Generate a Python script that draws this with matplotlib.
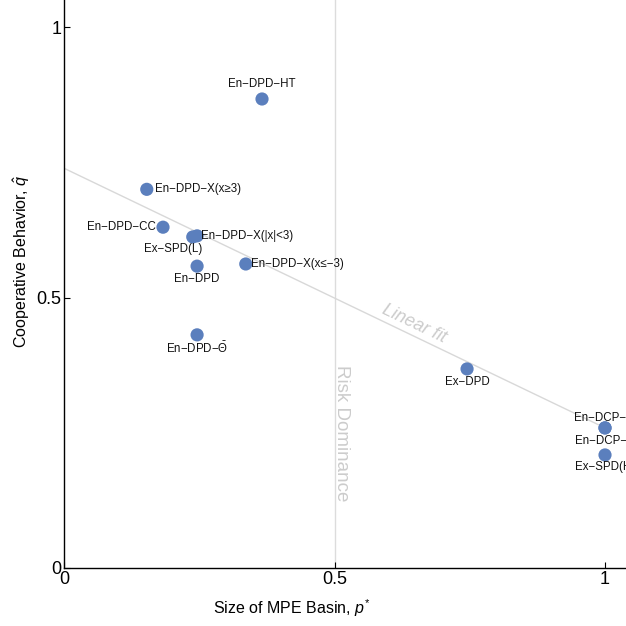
import matplotlib.pyplot as plt
import numpy as np

plt.rcParams['font.family'] = ['Liberation Sans', 'DejaVu Sans']
plt.rcParams['mathtext.fontset'] = 'custom'
plt.rcParams['mathtext.it'] = 'Liberation Sans:italic'
plt.rcParams['mathtext.rm'] = 'Liberation Sans'

# treatments: basin size p* vs. cooperation rate q-hat
names = ['En\u2212DPD\u2212HT', 'En\u2212DPD\u2212X(x\u22653)', 'En\u2212DPD\u2212CC',
         'Ex\u2212SPD(L)', 'En\u2212DPD\u2212X(|x|<3)', 'En\u2212DPD',
         'En\u2212DPD\u2212X(x\u2264\u22123)', 'En\u2212DPD\u2212$\\bar{\\Theta}$', 'Ex\u2212DPD',
         'En\u2212DCP\u2212M', 'En\u2212DCP\u2212E', 'Ex\u2212SPD(H)']
p_star = [0.366, 0.153, 0.183, 0.238, 0.246, 0.246, 0.336, 0.246, 0.745, 1.0, 1.0, 1.0]
q_hat = [0.867, 0.700, 0.630, 0.612, 0.614, 0.558, 0.562, 0.431, 0.368, 0.259, 0.259, 0.209]

# label placement (offset in points, horizontal alignment)
label_pos = [((0, 11), 'center'), ((6, 0), 'left'), ((-5, 0), 'right'),
             ((-14, -9), 'center'), ((3, 0), 'left'), ((0, -9), 'center'),
             ((4, 0), 'left'), ((0, -10), 'center'), ((0, -9.5), 'center'),
             ((0, 7), 'center'), ((0, -9.5), 'center'), ((0, -9), 'center')]

fit_intercept = 0.739
fit_slope = -0.48

fig = plt.figure(figsize=(6.26, 6.26), dpi=100)
ax = fig.add_axes([64 / 626, 58 / 626, 1 - 64 / 626, 568 / 626])
ax.set_xlim(0, 1.0388)
ax.set_ylim(0, 1.05)

ax.axvline(0.5, color='#dcdcdc', lw=1, zorder=1)
xf = np.array([0, 1])
ax.plot(xf, fit_intercept + fit_slope * xf, color='#d8d8d8', lw=1, zorder=1)
ax.text(0.647, fit_intercept + fit_slope * 0.647 + 0.022, 'Linear fit', rotation=-25.6,
        rotation_mode='anchor', ha='center', va='center', style='italic',
        color='#cccccc', fontsize=13)
ax.text(0.513, 0.25, 'Risk Dominance', rotation=-90, ha='center', va='center',
        color='#cccccc', fontsize=13.5)

ax.scatter(p_star, q_hat, s=90, color='#5b7fbd', edgecolors='none', zorder=3)
for name, x, y, (off, ha) in zip(names, p_star, q_hat, label_pos):
    ax.annotate(name, (x, y), xytext=off, textcoords='offset points',
                ha=ha, va='center', fontsize=8.3, color='#111111', zorder=4)

for s in ['top', 'right']:
    ax.spines[s].set_visible(False)
ax.spines['left'].set_linewidth(1)
ax.spines['bottom'].set_linewidth(1)
ax.set_xticks([0, 0.5, 1])
ax.set_xticklabels(['0', '0.5', '1'])
ax.set_yticks([0, 0.5, 1])
ax.set_yticklabels(['0', '0.5', '1'])
ax.tick_params(direction='in', length=4, labelsize=13, pad=2)
ax.set_xlabel('Size of MPE Basin, $p^{*}$', fontsize=11.5)
ax.set_ylabel('Cooperative Behavior, $\\hat{q}$', fontsize=11.5)
ax.xaxis.set_label_coords(0.42 / 1.0388, -29 / 568)
ax.yaxis.set_label_coords(-32 / 562, 0.567 / 1.05)

fig.savefig('out.png', dpi=100)
